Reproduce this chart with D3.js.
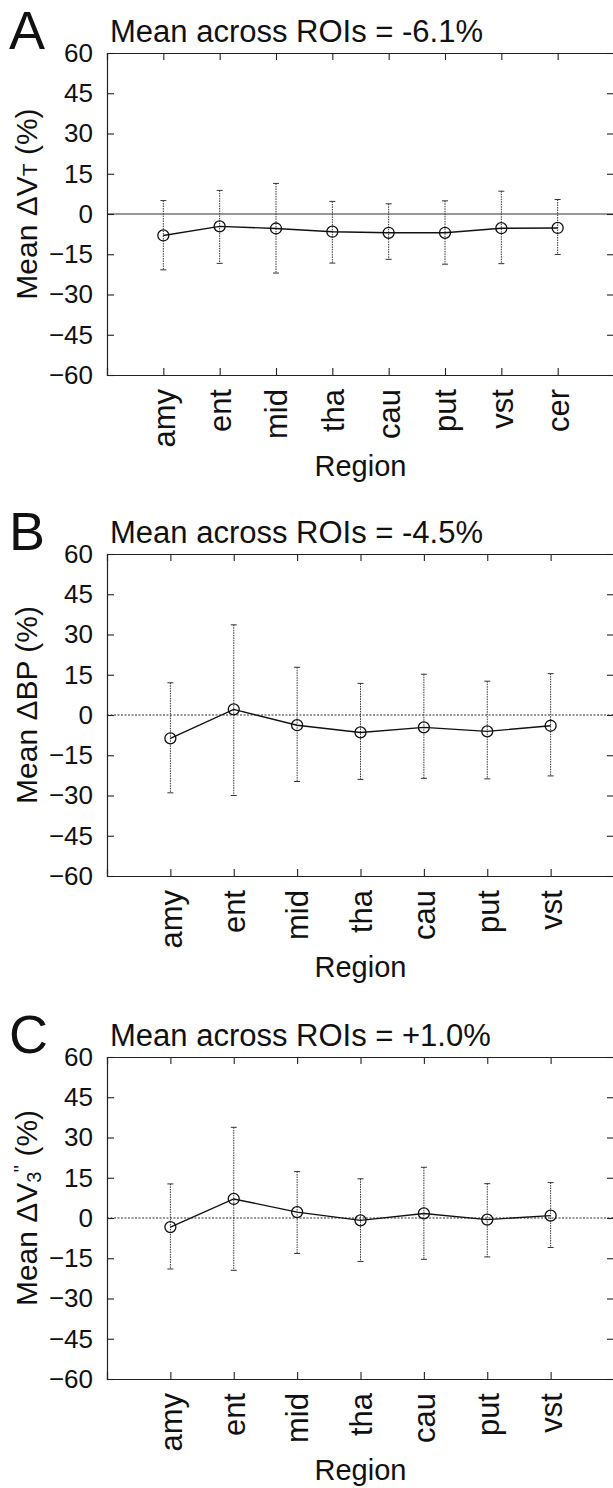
<!DOCTYPE html>
<html>
<head>
<meta charset="utf-8">
<script src="https://cdn.jsdelivr.net/npm/d3@7"></script>
<style>
  body { margin: 0; background: #fff; }
  svg { display: block; }
  text { font-family: "Liberation Sans", Arial, Helvetica, sans-serif; fill: #111; }
</style>
</head>
<body>
<div id="chart"></div>
<script>
// DATA
const regionsA = ["amy", "ent", "mid", "tha", "cau", "put", "vst", "cer"];
const regionsBC = ["amy", "ent", "mid", "tha", "cau", "put", "vst"];
const yTicks = [-60, -45, -30, -15, 0, 15, 30, 45, 60];

// panel A: mean change in VT
const meanA = [-8, -4.6, -5.4, -6.6, -7, -7, -5.3, -5.2];
const upperA = [5, 8.8, 11.4, 4.7, 3.8, 4.9, 8.5, 5.4];
const lowerA = [-20.8, -18.4, -22, -18.3, -16.9, -18.7, -18.5, -15.1];

// panel B: mean change in BP
const meanB = [-8.7, 2.1, -3.8, -6.5, -4.6, -6.1, -4];
const upperB = [12, 33.6, 17.8, 11.8, 15.2, 12.6, 15.4];
const lowerB = [-29, -30, -24.8, -24, -23.6, -23.8, -22.7];

// panel C: mean change in V3''
const meanC = [-3.4, 7.1, 2.2, -0.9, 1.7, -0.6, 0.9];
const upperC = [12.7, 33.8, 17.3, 14.6, 18.9, 12.8, 13.2];
const lowerC = [-19, -19.5, -13.2, -16.2, -15.4, -14.5, -11];

const titles = ["Mean across ROIs = -6.1%", "Mean across ROIs = -4.5%", "Mean across ROIs = +1.0%"];
const letters = ["A", "B", "C"];

// LAYOUT
const W = 613, H = 1488;
const panelTop = [0, 501, 1004];
const plot = { left: 107, right: 614, top: 53, bottom: 375 };

const svg = d3.select("#chart").append("svg")
  .attr("width", W)
  .attr("height", H);

const panels = [
  { regions: regionsA, mean: meanA, upper: upperA, lower: lowerA, zeroDash: null },
  { regions: regionsBC, mean: meanB, upper: upperB, lower: lowerB, zeroDash: "2,1.5" },
  { regions: regionsBC, mean: meanC, upper: upperC, lower: lowerC, zeroDash: "2,1.5" }
];

// y label pieces, one writer per panel
const yLabel = [
  t => { t.append("tspan").text("Mean \u0394V"); t.append("tspan").attr("font-size", 21).text("T"); t.append("tspan").text(" (%)"); },
  t => { t.append("tspan").text("Mean \u0394BP (%)"); },
  t => {
    t.append("tspan").text("Mean \u0394V");
    t.append("tspan").attr("font-size", 20).attr("dy", 4).text("3");
    t.append("tspan").attr("font-size", 20).attr("dy", -13).attr("dx", -1).text("''");
    t.append("tspan").attr("dy", 9).text(" (%)");
  }
];

panels.forEach((p, i) => {
  const g = svg.append("g").attr("transform", `translate(0, ${panelTop[i]})`);

  const x = d3.scalePoint()
    .domain(p.regions)
    .range([plot.left, plot.right])
    .padding(1);

  const y = d3.scaleLinear()
    .domain([-60, 60])
    .range([plot.bottom, plot.top]);

  // panel letter and title
  g.append("text")
    .attr("x", 9)
    .attr("y", 49)
    .attr("font-size", 54)
    .text(letters[i]);

  g.append("text")
    .attr("x", 110)
    .attr("y", 42)
    .attr("font-size", 31)
    .text(titles[i]);

  // zero line
  g.append("line")
    .attr("x1", plot.left).attr("x2", plot.right)
    .attr("y1", y(0)).attr("y2", y(0))
    .attr("stroke", "#333")
    .attr("stroke-width", 1.1)
    .attr("stroke-dasharray", p.zeroDash);

  // axes (ticks point inward, MATLAB style)
  const tickLen = 7;
  g.append("g")
    .attr("transform", `translate(${plot.left}, 0)`)
    .call(d3.axisLeft(y).tickValues(yTicks).tickSize(-tickLen).tickPadding(tickLen + 7))
    .call(a => a.selectAll("text").attr("font-size", 26).attr("font-family", "Liberation Sans, Arial, sans-serif").attr("fill", "#111"));

  g.append("g")
    .attr("transform", `translate(${plot.right}, 0)`)
    .call(d3.axisRight(y).tickValues(yTicks).tickSize(-tickLen).tickFormat(""));

  const xb = g.append("g")
    .attr("transform", `translate(0, ${plot.bottom})`)
    .call(d3.axisBottom(x).tickSize(-tickLen).tickPadding(0));
  xb.selectAll("text")
    .attr("font-size", 31)
    .attr("font-family", "Liberation Sans, Arial, sans-serif")
    .attr("fill", "#111")
    .attr("text-anchor", "end")
    .attr("dy", "0.35em")
    .attr("transform", "translate(0, 14) rotate(-90)")
    .attr("y", 0)
    .attr("x", 0);

  g.append("g")
    .attr("transform", `translate(0, ${plot.top})`)
    .call(d3.axisTop(x).tickSize(-tickLen).tickFormat(""));

  g.selectAll(".domain").attr("stroke", "#222").attr("stroke-width", 1.2);
  g.selectAll(".tick line").attr("stroke", "#222").attr("stroke-width", 1.1);

  // axis labels
  const lab = g.append("text")
    .attr("transform", `translate(37, ${(plot.top + plot.bottom) / 2 - 10}) rotate(-90)`)
    .attr("text-anchor", "middle")
    .attr("font-size", 30);
  yLabel[i](lab);

  g.append("text")
    .attr("x", (plot.left + plot.right) / 2)
    .attr("y", 476)
    .attr("text-anchor", "middle")
    .attr("font-size", 29)
    .text("Region");

  // error bars
  const bars = g.append("g");
  const capW = 3;
  p.regions.forEach((r, j) => {
    const cx = x(r);
    bars.append("line")
      .attr("x1", cx).attr("x2", cx)
      .attr("y1", y(p.upper[j])).attr("y2", y(p.lower[j]))
      .attr("stroke", "#333").attr("stroke-width", 1)
      .attr("stroke-dasharray", "1.5,1");
    [p.upper[j], p.lower[j]].forEach(v => {
      bars.append("line")
        .attr("x1", cx - capW).attr("x2", cx + capW)
        .attr("y1", y(v)).attr("y2", y(v))
        .attr("stroke", "#333").attr("stroke-width", 1);
    });
  });

  // mean line and markers
  const pts = p.regions.map((r, j) => [x(r), y(p.mean[j])]);
  g.append("path")
    .attr("d", d3.line()(pts))
    .attr("fill", "none")
    .attr("stroke", "#111")
    .attr("stroke-width", 1.4);

  g.selectAll("circle.pt")
    .data(pts)
    .enter()
    .append("circle")
    .attr("class", "pt")
    .attr("cx", d => d[0])
    .attr("cy", d => d[1])
    .attr("r", 5.5)
    .attr("fill", "none")
    .attr("stroke", "#111")
    .attr("stroke-width", 1.3);
});
</script>
</body>
</html>
